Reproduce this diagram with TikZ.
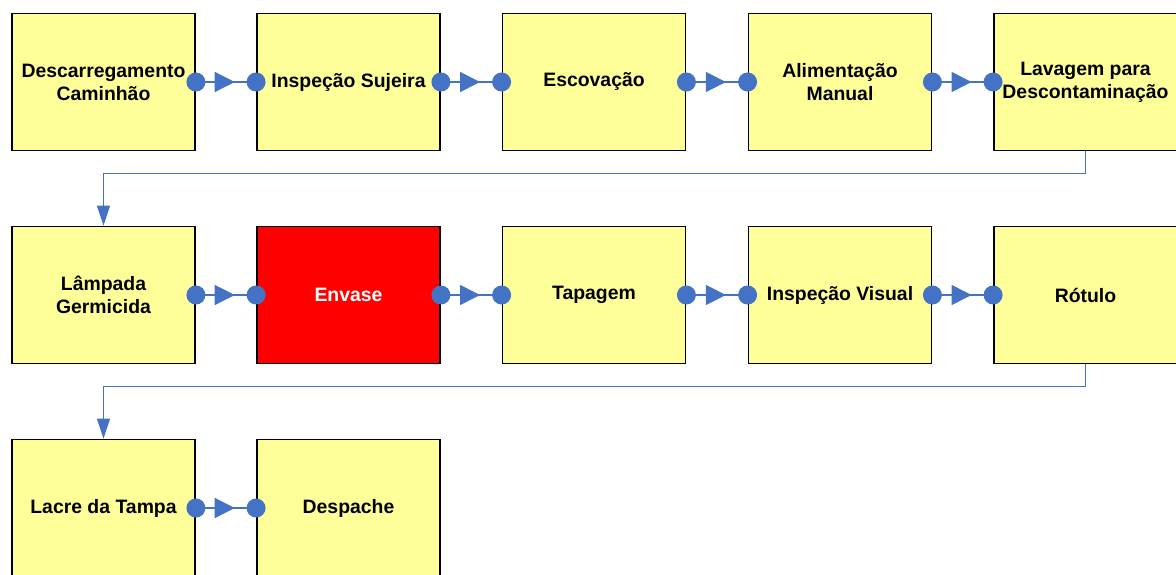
\documentclass[tikz,border=0pt]{standalone}
\usepackage{fontspec}
\setmainfont{Liberation Sans}
\usepackage{xcolor}
\definecolor{boxfill}{HTML}{FFFF99}
\definecolor{flowblue}{HTML}{4472C4}
\usetikzlibrary{arrows.meta}
\usetikzlibrary{decorations.markings}
\usetikzlibrary{positioning}

\tikzset{
  stagebox/.style={draw=black, line width=1.8pt, fill=boxfill, minimum width=183pt, minimum height=137pt,
    inner sep=2pt, align=center, font=\fontsize{19.4}{23}\selectfont\bfseries},
  flow/.style={draw=flowblue, line width=1.3pt, postaction={decorate},
    decoration={markings, mark=at position 0.645 with {\arrow{Triangle[length=20pt,width=20pt]}}}},
  turn/.style={draw=flowblue, line width=1.2pt, -{Triangle[length=20pt,width=13pt]}},
  port/.style={fill=flowblue}
}

\begin{document}
\begin{tikzpicture}[x=1pt, y=-1pt]

\useasboundingbox (0,0) rectangle (1176,574);
\clip (0,0) rectangle (1176,574);

% Row 1
\node[stagebox] (desc) at (103.5,82) {Descarregamento\\Caminhão};
\node[stagebox] (insp) at (348.5,82) {Inspeção Sujeira};
\node[stagebox] (esco) at (594,82) {Escovação};
\node[stagebox] (alim) at (840,82) {Alimentação\\Manual};
\node[stagebox] (lav) at (1085.5,82) {Lavagem para\\Descontaminação};

% Row 2
\node[stagebox] (lamp) at (103.5,295) {Lâmpada\\Germicida};
\node[stagebox, fill=red, text=white] (envase) at (348.5,295) {Envase};
\node[stagebox] (tap) at (594,295) {Tapagem};
\node[stagebox] (vis) at (840,295) {Inspeção Visual};
\node[stagebox] (rot) at (1085.5,295) {Rótulo};

% Row 3
\node[stagebox] (lacre) at (103.5,508) {Lacre da Tampa};
\node[stagebox] (desp) at (348.5,508) {Despache};

% links inside a row
\foreach \a/\b in {desc/insp, insp/esco, esco/alim, alim/lav,
                   lamp/envase, envase/tap, tap/vis, vis/rot, lacre/desp} {
  \draw[flow] (\a.east) -- (\b.west);
  \fill[port] (\a.east) circle (9.5) (\b.west) circle (9.5);
}

% links to the next row
\draw[turn] (lav.south) -- ++(0,22) -| (lamp.north);
\draw[turn] (rot.south) -- ++(0,22) -| (lacre.north);

\end{tikzpicture}
\end{document}
